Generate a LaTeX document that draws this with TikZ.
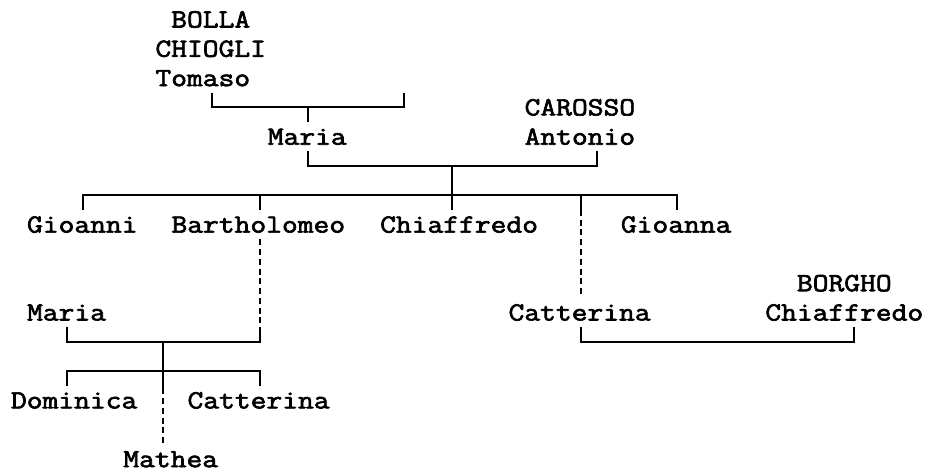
\documentclass[tikz,border=0pt]{standalone}
\usepackage{fontspec}
\usepackage{tikz}
\usetikzlibrary{positioning,calc}
\newfontfamily\gridfont[FakeStretch=1.17,FakeBold=2.5]{Latin Modern Mono}
\tikzset{
    every picture/.style={line join=miter},
    person/.style={anchor=west,inner sep=0pt,outer sep=0pt,
      text height=22.65pt,text depth=6.65pt,
      font={\fontsize{26.2pt}{29.3pt}\gridfont}},
    bar/.style={draw=black,line width=2pt},
    descent/.style={draw=black,line width=2pt,dash pattern=on 6pt off 3.77pt}
}

\begin{document}
\begin{tikzpicture}[x=16.05pt,y=-29.3pt]
  \useasboundingbox (-0.6854,-0.6655) rectangle (57.07,15.41);
  % first generation
  \node[person] (chiogli) at (9,1) {CHIOGLI};
  \node[person,above=0pt of chiogli] (bolla) {BOLLA};
  \node[person,below=0pt of chiogli.south west,anchor=north west] (tomaso) {Tomaso};
  \node[person] (maria) at (16,4) {Maria};
  \node[person] (antonio) at (32,4) {Antonio};
  \node[person,above=0pt of antonio] (carosso) {CAROSSO};
  % children of Maria and Antonio
  \node[person] (gioanni) at (1,7) {Gioanni};
  \node[person] (bartholomeo) at (10,7) {Bartholomeo};
  \node[person] (chiaffredo) at (23,7) {Chiaffredo};
  \node[person] (gioanna) at (38,7) {Gioanna};
  % spouses
  \node[person] (mariawife) at (1,10) {Maria};
  \node[person] (catterina) at (31,10) {Catterina};
  \node[person] (chiaffredoB) at (47,10) {Chiaffredo};
  \node[person,above=0pt of chiaffredoB] (borgho) {BORGHO};
  % grandchildren
  \node[person] (dominica) at (0,13) {Dominica};
  \node[person] (catterinaB) at (11,13) {Catterina};
  \node[person,text height=20.3pt,text depth=4pt] (mathea) at (7,15) {Mathea};

  \coordinate (u1) at (18.5,3);
  \coordinate (nofather) at (24.5,2.5);
  \coordinate (u2) at (27.5,5);
  \coordinate (kids2) at (27.5,6);
  \coordinate (u3) at (9.5,11);
  \coordinate (kids3) at (9.5,12);
  \coordinate (u4) at (44,11);

  % Tomaso and unknown
  \draw[bar] ($(tomaso.south west)+(3.5,0)$) |- (u1) -| (nofather);
  \draw[bar] (u1) -- ($(maria.north west)+(2.5,0)$);
  % Maria and Antonio
  \draw[bar] ($(maria.south west)+(2.5,0)$) |- (u2) -| ($(antonio.south west)+(4.5,0)$);
  \draw[bar] (u2) -- (kids2);
  \draw[bar] ($(gioanni.north west)+(3.5,0)$) |- (kids2) -| ($(gioanna.north west)+(3.5,0)$);
  \draw[bar] ($(bartholomeo.north west)+(5.5,0)$) |- (kids2);
  \draw[bar] (kids2) -- ($(chiaffredo.north west)+(4.5,0)$);
  \draw[bar] ($(catterina.north west)+(4.5,-3)$) |- (kids2);
  \draw[descent] ($(catterina.north west)+(4.5,-3)$) -- ($(catterina.north west)+(4.5,0)$);
  % Bartholomeo and Maria
  \draw[bar] ($(mariawife.south west)+(2.5,0)$) |- (u3) -| ($(bartholomeo.south west)+(5.5,3)$);
  \draw[descent] ($(bartholomeo.south west)+(5.5,0)$) -- ($(bartholomeo.south west)+(5.5,3)$);
  \draw[bar] (u3) -- (kids3);
  \draw[bar] ($(dominica.north west)+(3.5,0)$) |- (kids3) -| ($(catterinaB.north west)+(4.5,0)$);
  \draw[bar] (kids3) -- ($(mathea.north west)+(2.5,-2)$);
  \draw[descent] ($(mathea.north west)+(2.5,-2)$) -- ($(mathea.north west)+(2.5,0)$);
  % Catterina and Chiaffredo
  \draw[bar] ($(catterina.south west)+(4.5,0)$) |- (u4) -| ($(chiaffredoB.south west)+(5.5,0)$);
\end{tikzpicture}
\end{document}
